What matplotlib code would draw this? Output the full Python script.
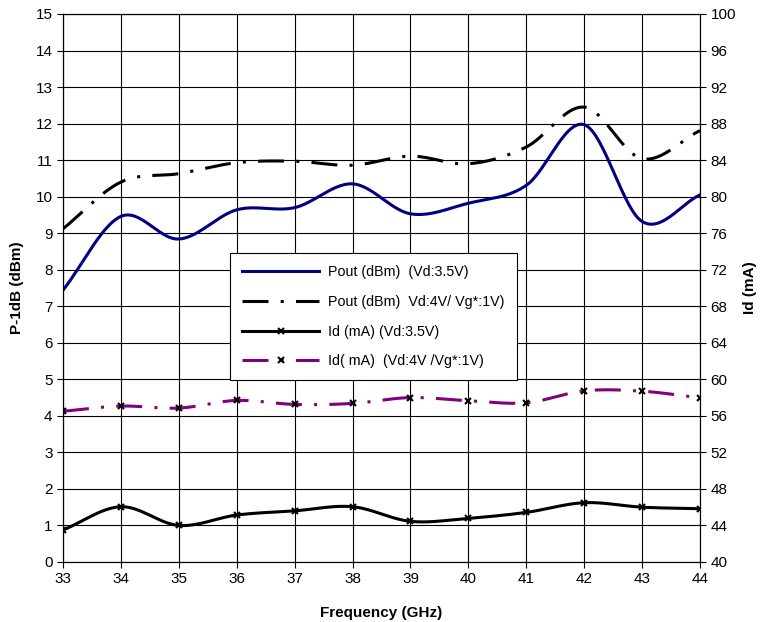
import numpy as np
import matplotlib
matplotlib.use('Agg')
import matplotlib.pyplot as plt
from matplotlib.lines import Line2D

plt.rcParams['font.family'] = ['Liberation Sans', 'DejaVu Sans']

# 数据
freq = [33, 34, 35, 36, 37, 38, 39, 40, 41, 42, 43, 44]
pout_35 = [7.44, 9.46, 8.84, 9.64, 9.70, 10.35, 9.53, 9.82, 10.31, 11.97, 9.32, 10.05]
pout_4 = [9.12, 10.40, 10.63, 10.93, 10.97, 10.86, 11.11, 10.90, 11.36, 12.45, 11.04, 11.81]
id_35 = [43.5, 46.05, 44.0, 45.14, 45.6, 46.05, 44.45, 44.78, 45.43, 46.49, 46.0, 45.83]
id_4 = [56.5, 57.07, 56.85, 57.69, 57.25, 57.36, 58.0, 57.65, 57.43, 58.74, 58.7, 57.97]


def smooth(x, y, n=30):
    # Catmull-Rom 平滑, 类似 Excel 的平滑线
    x = np.asarray(x, float)
    y = np.asarray(y, float)
    px = np.concatenate([[2 * x[0] - x[1]], x, [2 * x[-1] - x[-2]]])
    py = np.concatenate([[2 * y[0] - y[1]], y, [2 * y[-1] - y[-2]]])
    xs, ys = [], []
    t = np.linspace(0, 1, n, endpoint=False)
    for i in range(1, len(px) - 2):
        for p, out in ((px, xs), (py, ys)):
            p0, p1, p2, p3 = p[i - 1], p[i], p[i + 1], p[i + 2]
            out.append(0.5 * (2 * p1 + (-p0 + p2) * t + (2 * p0 - 5 * p1 + 4 * p2 - p3) * t ** 2
                              + (-p0 + 3 * p1 - 3 * p2 + p3) * t ** 3))
    xs.append([x[-1]])
    ys.append([y[-1]])
    return np.concatenate(xs), np.concatenate(ys)


fig = plt.figure(figsize=(7.62, 6.22), dpi=100)
ax = fig.add_axes([0.0827, 0.0965, 0.836, 0.881])
ax2 = ax.twinx()

lw = 2.2
dashdot = (0, (8.5, 4, 1, 4))

x, y = smooth(freq, pout_35)
ax.plot(x, y, color='#000080', lw=lw)
x, y = smooth(freq, pout_4)
ax.plot(x, y, color='black', lw=lw, linestyle=dashdot)

x, y = smooth(freq, id_35)
ax2.plot(x, y, color='black', lw=lw)
ax2.plot(freq, id_35, linestyle='none', marker='x', ms=4, mew=1.5, color='black')
x, y = smooth(freq, id_4)
ax2.plot(x, y, color='#800080', lw=lw, linestyle=dashdot)
ax2.plot(freq, id_4, linestyle='none', marker='x', ms=4, mew=1.5, color='black')

ax.set_xlim(33, 44)
ax.set_ylim(0, 15)
ax2.set_ylim(40, 100)
ax.set_xticks(freq)
ax.set_yticks(range(0, 16))
ax2.set_yticks(range(40, 101, 4))
ax.grid(True, color='black', lw=0.8)
ax.set_axisbelow(True)

for a in (ax, ax2):
    a.tick_params(labelsize=11, direction='out', length=4, color='black')
    for s in a.spines.values():
        s.set_color('black')

ax.set_xlabel('Frequency (GHz)', fontsize=11, fontweight='bold', labelpad=14)
ax.set_ylabel('P-1dB (dBm)', fontsize=11, fontweight='bold', labelpad=8)
ax2.set_ylabel('Id (mA)', fontsize=11, fontweight='bold', labelpad=5)

handles = [
    Line2D([], [], color='#000080', lw=lw),
    Line2D([], [], color='black', lw=lw, linestyle=dashdot),
    Line2D([], [], color='black', lw=lw, marker='x', ms=4, mew=1.5),
    Line2D([], [], color='#800080', lw=lw, linestyle=dashdot, marker='x', ms=4, mew=1.5,
           markeredgecolor='black'),
]
labels = ['Pout (dBm)  (Vd:3.5V)', 'Pout (dBm)  Vd:4V/ Vg*:1V)',
          'Id (mA) (Vd:3.5V)', 'Id( mA)  (Vd:4V /Vg*:1V)']
leg = ax2.legend(handles, labels, loc='upper left', bbox_to_anchor=(0.262, 0.564),
                 fontsize=10.3, handlelength=5.4, handletextpad=0.6, labelspacing=1.1,
                 borderpad=0.85, borderaxespad=0, fancybox=False, framealpha=1,
                 edgecolor='black')
leg.get_frame().set_linewidth(0.8)

plt.savefig('out.png', dpi=100)
